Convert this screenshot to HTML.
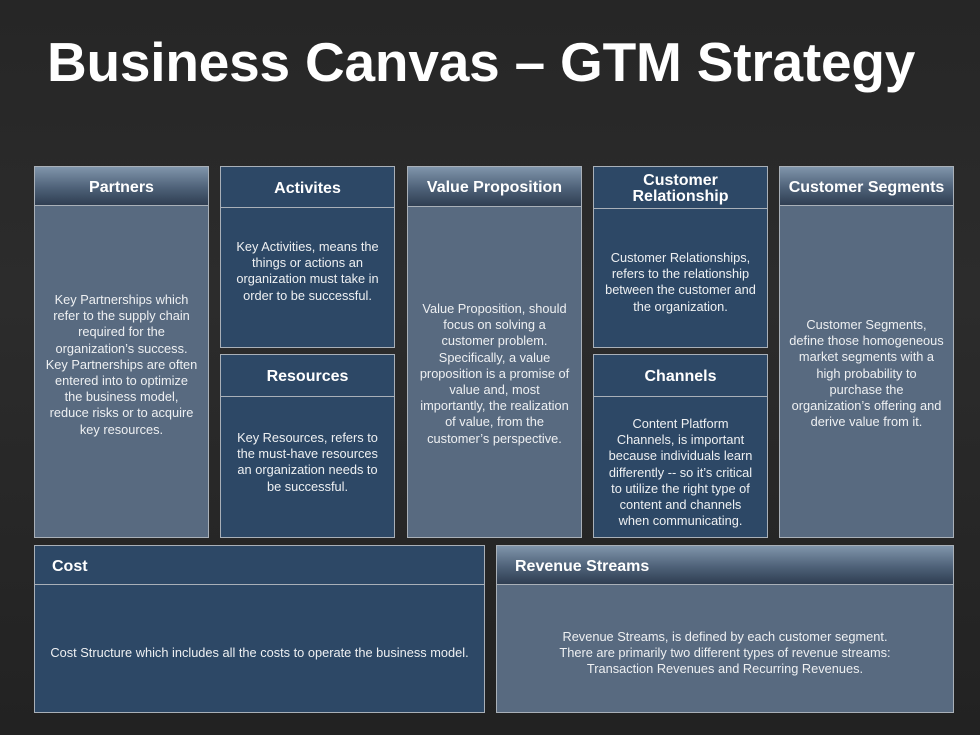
<!DOCTYPE html>
<html><head><meta charset="utf-8"><style>
*{margin:0;padding:0;box-sizing:border-box}
body{width:980px;height:735px;background:linear-gradient(#262626,#2c2c2c 40%,#222 100%);font-family:"Liberation Sans",sans-serif;position:relative;overflow:hidden}
h1{position:absolute;left:47px;top:30px;color:#fff;font-size:55px;font-weight:bold;letter-spacing:-0.2px;white-space:nowrap}
.b{position:absolute;border:1.5px solid #a9b0b8}
.h{position:absolute;left:0;right:0;top:0;border-bottom:1.5px solid #a9b0b8;color:#fff;font-weight:bold;font-size:16px;display:flex;align-items:center;justify-content:center;text-align:center;line-height:16px;padding-top:3px}
.L{background:#586a80}
.L .h{background:linear-gradient(#8095ab,#4e6178 55%,#2f3e52)}
.D{background:#2d4866}
.D .h{background:#2d4866}
.t{position:absolute;left:-10px;right:-10px;color:#eef0f2;font-size:12.8px;line-height:16.2px;text-align:center;white-space:nowrap}
</style></head><body>
<h1>Business Canvas – GTM Strategy</h1>

<div class="b L" style="left:34px;top:166px;width:175px;height:372px">
<div class="h" style="height:39px">Partners</div>
<div class="t" style="top:125px">Key Partnerships which<br>refer to the supply chain<br>required for the<br>organization’s success.<br>Key Partnerships are often<br>entered into to optimize<br>the business model,<br>reduce risks or to acquire<br>key resources.</div>
</div>

<div class="b D" style="left:220px;top:166px;width:175px;height:182px">
<div class="h" style="height:41px">Activites</div>
<div class="t" style="top:72px">Key Activities, means the<br>things or actions an<br>organization must take in<br>order to be successful.</div>
</div>

<div class="b D" style="left:220px;top:354px;width:175px;height:184px">
<div class="h" style="height:42px">Resources</div>
<div class="t" style="top:75px">Key Resources, refers to<br>the must-have resources<br>an organization needs to<br>be successful.</div>
</div>

<div class="b L" style="left:407px;top:166px;width:175px;height:372px">
<div class="h" style="height:40px">Value Proposition</div>
<div class="t" style="top:134px">Value Proposition, should<br>focus on solving a<br>customer problem.<br>Specifically, a value<br>proposition is a promise of<br>value and, most<br>importantly, the realization<br>of value, from the<br>customer’s perspective.</div>
</div>

<div class="b D" style="left:593px;top:166px;width:175px;height:182px">
<div class="h" style="height:42px">Customer<br>Relationship</div>
<div class="t" style="top:83px">Customer Relationships,<br>refers to the relationship<br>between the customer and<br>the organization.</div>
</div>

<div class="b D" style="left:593px;top:354px;width:175px;height:184px">
<div class="h" style="height:42px">Channels</div>
<div class="t" style="top:61px">Content Platform<br>Channels, is important<br>because individuals learn<br>differently -- so it’s critical<br>to utilize the right type of<br>content and channels<br>when communicating.</div>
</div>

<div class="b L" style="left:779px;top:166px;width:175px;height:372px">
<div class="h" style="height:39px">Customer Segments</div>
<div class="t" style="top:150px">Customer Segments,<br>define those homogeneous<br>market segments with a<br>high probability to<br>purchase the<br>organization’s offering and<br>derive value from it.</div>
</div>

<div class="b D" style="left:34px;top:545px;width:451px;height:168px">
<div class="h" style="height:39px;justify-content:flex-start;padding-left:17px">Cost</div>
<div class="t" style="top:99px">Cost Structure which includes all the costs to operate the business model.</div>
</div>

<div class="b L" style="left:496px;top:545px;width:458px;height:168px">
<div class="h" style="height:39px;justify-content:flex-start;padding-left:18px">Revenue Streams</div>
<div class="t" style="top:83px">Revenue Streams, is defined by each customer segment.<br>There are primarily two different types of revenue streams:<br>Transaction Revenues and Recurring Revenues.</div>
</div>
</body></html>
